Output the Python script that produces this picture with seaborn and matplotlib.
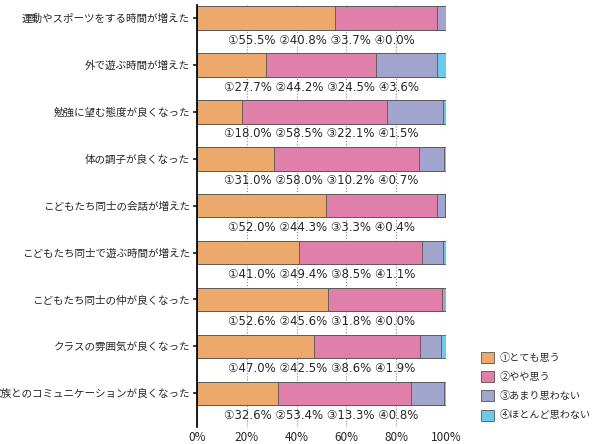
import matplotlib
matplotlib.use("Agg")
import matplotlib.pyplot as plt
import seaborn as sns
import numpy as np
import pandas as pd
from matplotlib.patches import Patch

sns.set_theme(style="white")
plt.rcParams['font.family'] = ['Noto Sans CJK JP', 'DejaVu Sans']

categories = ["運動やスポーツをする時間が増えた", "外で遊ぶ時間が増えた", "勉強に望む態度が良くなった",
              "体の調子が良くなった", "こどもたち同士の会話が増えた", "こどもたち同士で遊ぶ時間が増えた",
              "こどもたち同士の仲が良くなった", "クラスの雰囲気が良くなった", "家族とのコミュニケーションが良くなった"]
s1 = [55.5, 27.7, 18.0, 31.0, 52.0, 41.0, 52.6, 47.0, 32.6]
s2 = [40.8, 44.2, 58.5, 58.0, 44.3, 49.4, 45.6, 42.5, 53.4]
s3 = [3.7, 24.5, 22.1, 10.2, 3.3, 8.5, 1.8, 8.6, 13.3]
s4 = [0.0, 3.6, 1.5, 0.7, 0.4, 1.1, 0.0, 1.9, 0.8]
series_names = ["①とても思う", "②やや思う", "③あまり思わない", "④ほとんど思わない"]
colors = ["#eda96c", "#e07fa9", "#a1a5cd", "#6ec8ec"]

fig = plt.figure(figsize=(5.93, 4.44), dpi=100)
ax = fig.add_axes([197/593, 17/444, 249/593, 422/444])

n = len(categories)
ypos = np.arange(n) - 0.22
vals = np.array([s1, s2, s3, s4])
cum = np.cumsum(vals, axis=0)
for k in range(3, -1, -1):
    df = pd.DataFrame({"x": cum[k], "y": ypos})
    sns.barplot(data=df, x="x", y="y", orient="h", native_scale=True, width=0.5,
                color=colors[k], saturation=1, edgecolor="#555555", linewidth=0.6, ax=ax)

for i in range(n):
    ax.text(50, i + 0.25, f"①{s1[i]:.1f}% ②{s2[i]:.1f}% ③{s3[i]:.1f}% ④{s4[i]:.1f}%",
            ha="center", va="center", fontsize=8.5, family=['DejaVu Sans', 'Noto Sans CJK JP'])

ax.set_xlim(0, 100)
ax.set_ylim(n - 0.5, -0.5)
ax.set_yticks(ypos)
ax.set_yticklabels(categories, fontsize=7.6)
ax.set_xticks([0, 20, 40, 60, 80, 100])
ax.set_xticklabels([f"{v}%" for v in [0, 20, 40, 60, 80, 100]], fontsize=8.5)
ax.xaxis.grid(True, linestyle=":", color="#888888", linewidth=0.8)
ax.set_axisbelow(True)
ax.set_xlabel("")
ax.set_ylabel("")
for s in ["top", "right", "bottom"]:
    ax.spines[s].set_visible(False)
ax.spines["left"].set_color("black")
ax.tick_params(axis="y", length=3, left=True, pad=2)
ax.tick_params(axis="x", length=0, pad=3)

handles = [Patch(facecolor=c, edgecolor="#555555", linewidth=0.6) for c in colors]
fig.legend(handles, series_names, loc="upper left", bbox_to_anchor=(475/593, 1 - 346/444),
           frameon=False, fontsize=7.3, handlelength=1.3, handleheight=1.3, labelspacing=0.8,
           handletextpad=0.5, borderaxespad=0.2)
fig.savefig("out.png", dpi=100)
